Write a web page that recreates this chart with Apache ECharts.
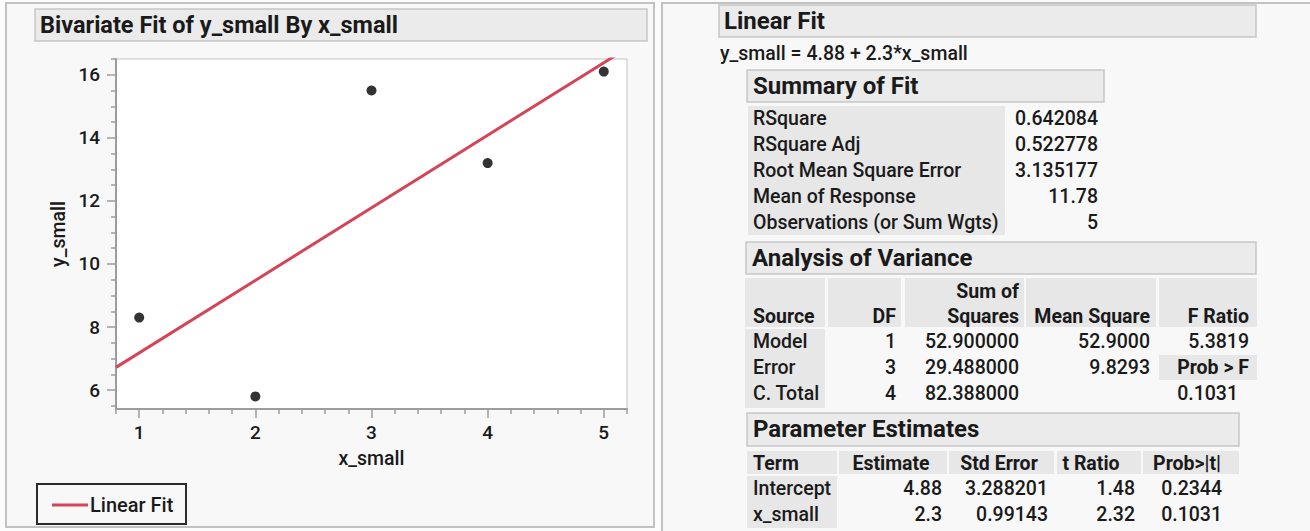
<!DOCTYPE html>
<html><head><meta charset="utf-8">
<script src="https://cdn.jsdelivr.net/npm/echarts@6/dist/echarts.min.js"></script>
<style>html,body{margin:0;padding:0;background:#fcfcfc;}#c{width:1310px;height:531px;}</style>
</head><body><div id="c"></div>
<script>
// ---- data ----
const xValues = [1, 2, 3, 4, 5];
const yValues = [8.3, 5.8, 15.5, 13.2, 16.1];
const fitIntercept = 4.88;
const fitSlope = 2.3;
const xTickValues = [1, 2, 3, 4, 5];
const yTickValues = [6, 8, 10, 12, 14, 16];
const summaryLabels = ['RSquare', 'RSquare Adj', 'Root Mean Square Error', 'Mean of Response', 'Observations (or Sum Wgts)'];
const summaryValues = ['0.642084', '0.522778', '3.135177', '11.78', '5'];
const anovaSources = ['Model', 'Error', 'C. Total'];
const anovaDF = ['1', '3', '4'];
const anovaSS = ['52.900000', '29.488000', '82.388000'];
const anovaMS = ['52.9000', '9.8293', ''];
const anovaF = ['5.3819', 'Prob > F', '0.1031'];
const paramTerms = ['Intercept', 'x_small'];
const paramEstimates = ['4.88', '2.3'];
const paramStdErr = ['3.288201', '0.99143'];
const paramTRatio = ['1.48', '2.32'];
const paramProb = ['0.2344', '0.1031'];

// ---- axis ranges ----
const xMin = 0.8, xMax = 5.2, yMin = 5.4, yMax = 16.5;
function minorValues(lo, hi, step, majors) {
  const out = [];
  for (let v = Math.ceil(lo / step - 1e-9) * step; v <= hi + 1e-9; v += step) {
    const r = Math.round(v * 100) / 100;
    if (majors.indexOf(r) < 0) out.push(r);
  }
  return out;
}
const xMinor = minorValues(xMin, xMax, 0.2, xTickValues);
const yMinor = minorValues(yMin, yMax, 0.5, yTickValues);

const FONT = 'Roboto';
const TXT = '#1a1a1a';
const AX = '#9c9c9c';
const CELL = '#e7e7e7';
const HEAD = '#ebebeb';
const HEADB = '#c6c6c6';
const BODY = 19.5;
const TITLE = 24;

const g = [];
function rect(x, y, w, h, fill, stroke, lw, z) {
  g.push({type: 'rect', z: z == null ? 1 : z, silent: true,
    shape: {x: x, y: y, width: w, height: h},
    style: {fill: fill, stroke: stroke || null, lineWidth: lw || 0}});
}
function txt(s, x, y, size, weight, align) {
  g.push({type: 'text', z: 5, silent: true, x: x, y: y,
    style: {text: s, fontSize: size, fontWeight: weight, fontFamily: FONT, fill: TXT,
      align: align || 'left', textAlign: align || 'left', verticalAlign: 'middle', textVerticalAlign: 'middle'}});
}

// panels
rect(6, 3, 648, 524, '#f8f8f8', '#c2c2c2', 2, -10);
rect(662, 3, 660, 560, '#f8f8f8', '#c2c2c2', 2, -10);

// left title
rect(35, 9, 612, 32, HEAD, HEADB, 1.5);
txt('Bivariate Fit of y_small By x_small', 40, 25, TITLE - 0.5, 'bold');

// legend
rect(37, 484, 149, 40, '#f8f8f8', '#2b2b2b', 2);
g.push({type: 'line', z: 5, silent: true, shape: {x1: 52, y1: 505, x2: 88, y2: 505},
  style: {stroke: '#d5455a', lineWidth: 3}});
txt('Linear Fit', 90, 505, 20, 500);

// Linear Fit header
rect(719, 5, 537, 32, HEAD, HEADB, 1.5);
txt('Linear Fit', 724, 20.5, TITLE, 'bold');
txt('y_small = ' + fitIntercept + ' + ' + fitSlope + '*x_small', 720, 53, BODY, 500);

// Summary of Fit
rect(747, 70, 357, 32, HEAD, HEADB, 1.5);
txt('Summary of Fit', 753, 86, TITLE, 'bold');
rect(748, 106, 257, 129, CELL);
summaryLabels.forEach(function (s, i) {
  txt(s, 753, 118 + 26 * i, BODY, 500);
  txt(summaryValues[i], 1098, 118 + 26 * i, BODY, 500, 'right');
});

// Analysis of Variance
rect(746, 242, 510, 32, HEAD, HEADB, 1.5);
txt('Analysis of Variance', 752, 258, TITLE, 'bold');
[[745, 80], [828, 73], [905, 119], [1026, 130], [1159, 98]].forEach(function (c) { rect(c[0], 278, c[1], 49, CELL); });
rect(745, 329, 80, 79, CELL);
rect(1159, 355, 98, 25, CELL);
txt('Source', 753, 316, BODY, 'bold');
txt('DF', 896, 316, BODY, 'bold', 'right');
txt('Sum of', 1019, 291, BODY, 'bold', 'right');
txt('Squares', 1019, 316, BODY, 'bold', 'right');
txt('Mean Square', 1150, 316, BODY, 'bold', 'right');
txt('F Ratio', 1249, 316, BODY, 'bold', 'right');
anovaSources.forEach(function (s, i) {
  const y = 341.5 + 26 * i;
  txt(s, 753, y, BODY, 500);
  txt(anovaDF[i], 896, y, BODY, 500, 'right');
  txt(anovaSS[i], 1019, y, BODY, 500, 'right');
  if (anovaMS[i]) txt(anovaMS[i], 1150, y, BODY, 500, 'right');
  if (i === 1) txt(anovaF[i], 1249, y, BODY, 'bold', 'right');
  else txt(anovaF[i], i === 2 ? 1238 : 1249, y, BODY, 500, 'right');
});

// Parameter Estimates
rect(747, 413, 492, 33, HEAD, HEADB, 1.5);
txt('Parameter Estimates', 753, 429, TITLE, 'bold');
[[747, 90], [839, 108], [949, 105], [1057, 84], [1143, 96]].forEach(function (c) { rect(c[0], 451, c[1], 23, CELL); });
rect(747, 476, 90, 52, CELL);
txt('Term', 753, 463, BODY, 'bold');
txt('Estimate', 891, 463, BODY, 'bold', 'center');
txt('Std Error', 999, 463, BODY, 'bold', 'center');
txt('t Ratio', 1091, 463, BODY, 'bold', 'center');
txt('Prob>|t|', 1187, 463, BODY, 'bold', 'center');
paramTerms.forEach(function (s, i) {
  const y = 488 + 26 * i;
  txt(s, 753, y, BODY, 500);
  txt(paramEstimates[i], 942, y, BODY, 500, 'right');
  txt(paramStdErr[i], 1048, y, BODY, 500, 'right');
  txt(paramTRatio[i], 1135, y, BODY, 500, 'right');
  txt(paramProb[i], 1222, y, BODY, 500, 'right');
});

const labelStyle = {fontSize: 19, fontWeight: 500, fontFamily: FONT, color: TXT};
const chart = echarts.init(document.getElementById('c'), null, {renderer: 'svg'});
chart.setOption({
  animation: false,
  backgroundColor: 'transparent',
  grid: {left: 116, top: 59, width: 511, height: 350, show: true, backgroundColor: '#ffffff',
    borderColor: '#c4c4c4', borderWidth: 1, containLabel: false},
  xAxis: [{
    type: 'value', min: xMin, max: xMax, position: 'bottom',
    name: 'x_small', nameLocation: 'middle', nameGap: 39,
    nameTextStyle: {fontSize: 19.5, fontWeight: 500, fontFamily: FONT, color: TXT},
    axisLine: {show: true, onZero: false, lineStyle: {color: AX, width: 2}},
    axisTick: {show: true, length: 9, customValues: xTickValues, lineStyle: {color: AX, width: 1.5}},
    axisLabel: Object.assign({customValues: xTickValues, margin: 14}, labelStyle),
    splitLine: {show: false}
  }, {
    type: 'value', min: xMin, max: xMax, position: 'bottom', offset: 0,
    axisLine: {show: false},
    axisTick: {show: true, length: 5, customValues: xMinor, lineStyle: {color: AX, width: 1.5}},
    axisLabel: {show: false}, splitLine: {show: false}
  }],
  yAxis: [{
    type: 'value', min: yMin, max: yMax, position: 'left',
    name: 'y_small', nameLocation: 'middle', nameGap: 48, nameRotate: 90,
    nameTextStyle: {fontSize: 19.5, fontWeight: 500, fontFamily: FONT, color: TXT},
    axisLine: {show: true, onZero: false, lineStyle: {color: AX, width: 2}},
    axisTick: {show: true, length: 9, customValues: yTickValues, lineStyle: {color: AX, width: 1.5}},
    axisLabel: Object.assign({customValues: yTickValues, margin: 16}, labelStyle),
    splitLine: {show: false}
  }, {
    type: 'value', min: yMin, max: yMax, position: 'left', offset: 0,
    axisLine: {show: false},
    axisTick: {show: true, length: 5, customValues: yMinor, lineStyle: {color: AX, width: 1.5}},
    axisLabel: {show: false}, splitLine: {show: false}
  }],
  series: [{
    name: 'Linear Fit', type: 'line', xAxisIndex: 0, yAxisIndex: 0, clip: true,
    showSymbol: false, silent: true, z: 2,
    data: [[xMin, fitIntercept + fitSlope * xMin], [xMax, fitIntercept + fitSlope * xMax]],
    lineStyle: {color: '#d5455a', width: 3}
  }, {
    name: 'y_small', type: 'scatter', xAxisIndex: 0, yAxisIndex: 0, z: 3,
    symbolSize: 10, itemStyle: {color: '#000000'},
    data: xValues.map(function (x, i) { return [x, yValues[i]]; })
  }],
  graphic: {elements: g}
});
</script></body></html>
